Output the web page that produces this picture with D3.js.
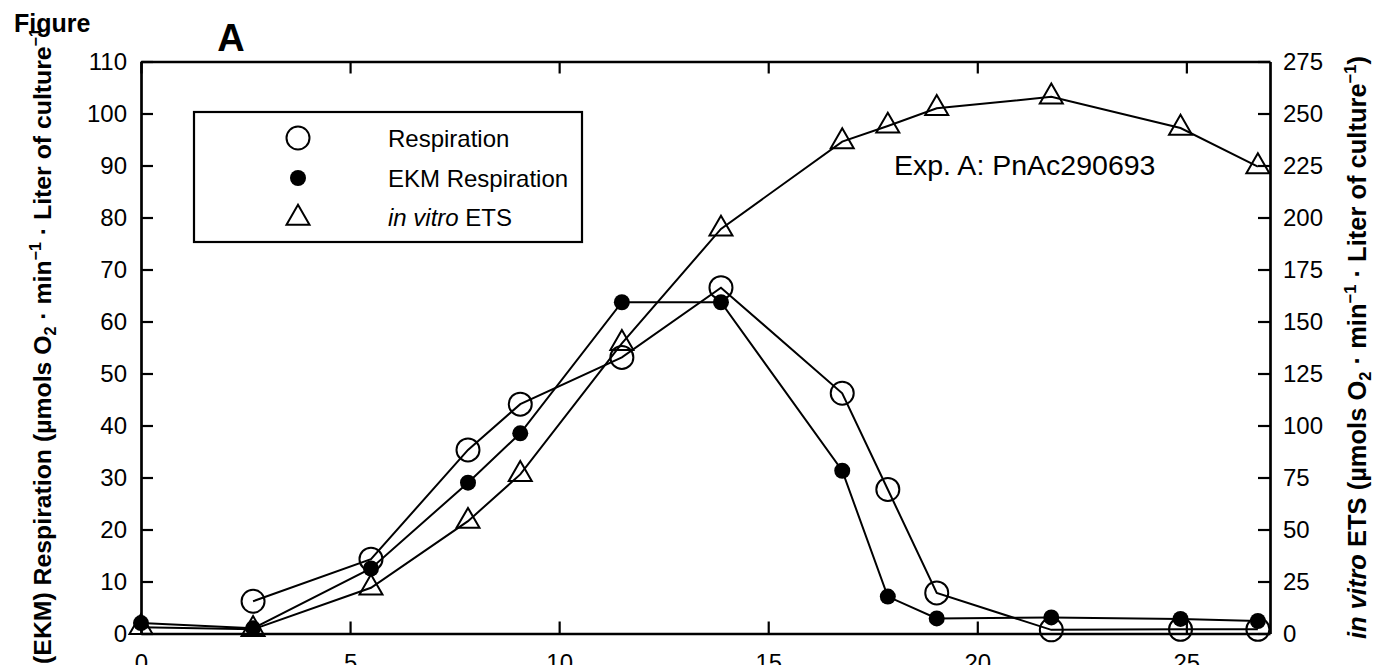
<!DOCTYPE html>
<html>
<head>
<meta charset="utf-8">
<script src="https://cdn.jsdelivr.net/npm/d3@7"></script>
<style>
  html, body { margin: 0; padding: 0; background: #fff; }
  svg { display: block; font-family: "Liberation Sans", Arial, sans-serif; }
</style>
</head>
<body>
<svg id="chart" width="1376" height="665"></svg>
<script>
// Sampling days
const days = [0, 2.68, 5.5, 7.82, 9.07, 11.5, 13.87, 16.77, 17.86, 19.03, 21.77, 24.86, 26.71];
// Respiration (left axis), no measurement on day 0
const respiration = [null, 6.2, 14.3, 35.3, 44.1, 53.1, 66.5, 46.2, 27.7, 7.8, 0.7, 0.8, 0.8];
// EKM respiration (left axis)
const ekmRespiration = [2.0, 1.0, 12.5, 29.0, 38.5, 63.7, 63.7, 31.3, 7.1, 2.9, 3.1, 2.8, 2.4];
// in vitro ETS (right axis)
const etsValues = [3, 2, 22, 54, 76.5, 139.5, 194.5, 236.5, 244, 252.5, 258, 243, 224.5];

const xTicks = [0, 5, 10, 15, 20, 25];
const leftTicks = [0, 10, 20, 30, 40, 50, 60, 70, 80, 90, 100, 110];
const rightTicks = [0, 25, 50, 75, 100, 125, 150, 175, 200, 225, 250, 275];

const svg = d3.select("#chart");
const plot = { left: 141, right: 1270, top: 61.5, bottom: 633.5 };

const x = d3.scaleLinear().domain([0, 27]).range([plot.left, plot.right]);
const yL = d3.scaleLinear().domain([0, 110]).range([plot.bottom, plot.top]);
const yR = d3.scaleLinear().domain([0, 275]).range([plot.bottom, plot.top]);

const axisStroke = 2.7;
const tickFont = 24;

function styleAxis(g) {
  g.selectAll("path.domain").attr("stroke", "#000").attr("stroke-width", axisStroke);
  g.selectAll(".tick line").attr("stroke", "#000").attr("stroke-width", 2.2);
  g.selectAll(".tick text").attr("fill", "#000").attr("font-size", tickFont)
    .attr("font-family", "Liberation Sans, Arial, sans-serif");
}

// Axes: box frame with inward ticks
svg.append("g").attr("transform", `translate(0,${plot.bottom})`)
  .call(d3.axisBottom(x).tickValues(xTicks).tickSize(-12).tickSizeOuter(0).tickPadding(20))
  .call(styleAxis);
svg.append("g").attr("transform", `translate(0,${plot.top})`)
  .call(d3.axisTop(x).tickValues(xTicks).tickSize(-12).tickSizeOuter(0).tickFormat(""))
  .call(styleAxis);
svg.append("g").attr("transform", `translate(${plot.left},0)`)
  .call(d3.axisLeft(yL).tickValues(leftTicks).tickSize(-12).tickSizeOuter(0).tickPadding(14))
  .call(styleAxis);
svg.append("g").attr("transform", `translate(${plot.right},0)`)
  .call(d3.axisRight(yR).tickValues(rightTicks).tickSize(-12).tickSizeOuter(0).tickPadding(13))
  .call(styleAxis);

// Series lines
const lineStroke = 2;
function drawLine(vals, yScale) {
  const pts = days.map((d, i) => [d, vals[i]]).filter(p => p[1] != null);
  svg.append("path")
    .attr("d", d3.line().x(p => x(p[0])).y(p => yScale(p[1]))(pts))
    .attr("fill", "none").attr("stroke", "#000").attr("stroke-width", lineStroke);
  return pts;
}
const respPts = drawLine(respiration, yL);
const ekmPts = drawLine(ekmRespiration, yL);
const etsPts = drawLine(etsValues, yR);

// Marker shapes
const triHalf = 11.5;
function trianglePath(cx, cy) {
  const h = triHalf * Math.sqrt(3);
  return `M${cx},${cy - 2 * h / 3}L${cx + triHalf},${cy + h / 3}L${cx - triHalf},${cy + h / 3}Z`;
}

svg.append("g").selectAll("path").data(etsPts).join("path")
  .attr("d", p => trianglePath(x(p[0]), yR(p[1])))
  .attr("fill", "none").attr("stroke", "#000").attr("stroke-width", 2);
svg.append("g").selectAll("circle").data(respPts).join("circle")
  .attr("cx", p => x(p[0])).attr("cy", p => yL(p[1])).attr("r", 11.5)
  .attr("fill", "none").attr("stroke", "#000").attr("stroke-width", 2);
svg.append("g").selectAll("circle").data(ekmPts).join("circle")
  .attr("cx", p => x(p[0])).attr("cy", p => yL(p[1])).attr("r", 8)
  .attr("fill", "#000");

// Legend
const legend = svg.append("g");
legend.append("rect").attr("x", 194).attr("y", 112).attr("width", 388).attr("height", 130)
  .attr("fill", "#fff").attr("stroke", "#000").attr("stroke-width", 2.2);
const symX = 298, textX = 388;
legend.append("circle").attr("cx", symX).attr("cy", 138).attr("r", 11.5)
  .attr("fill", "none").attr("stroke", "#000").attr("stroke-width", 2);
legend.append("circle").attr("cx", symX).attr("cy", 178).attr("r", 8).attr("fill", "#000");
legend.append("path").attr("d", trianglePath(symX, 218))
  .attr("fill", "none").attr("stroke", "#000").attr("stroke-width", 2);
const legText = legend.append("g").attr("font-size", 24).attr("fill", "#000");
legText.append("text").attr("x", textX).attr("y", 146.5).text("Respiration");
legText.append("text").attr("x", textX).attr("y", 186.5).text("EKM Respiration");
const lt3 = legText.append("text").attr("x", textX).attr("y", 226);
lt3.append("tspan").attr("font-style", "italic").text("in vitro");
lt3.append("tspan").text(" ETS");

// Experiment annotation
svg.append("text").attr("x", 894).attr("y", 175).attr("font-size", 28.5).attr("fill", "#000")
  .text("Exp. A: PnAc290693");

// Panel letter
svg.append("text").attr("x", 231).attr("y", 51).attr("text-anchor", "middle")
  .attr("font-size", 38).attr("font-weight", "bold").text("A");

// Unit text with subscript and superscripts
function unitParts(t, closeParen) {
  t.append("tspan").text("(µmols O");
  t.append("tspan").attr("font-size", "65%").attr("dy", 5).text("2");
  t.append("tspan").attr("dy", -5).text(" · min");
  t.append("tspan").attr("font-size", "65%").attr("dy", -10).text("−1");
  t.append("tspan").attr("dy", 10).text(" · Liter of culture");
  t.append("tspan").attr("font-size", "65%").attr("dy", -10).text("−1");
  if (closeParen) t.append("tspan").attr("dy", 10).text(")");
}

const leftTitle = svg.append("text")
  .attr("transform", "translate(51,28) rotate(-90)")
  .attr("text-anchor", "end").attr("font-size", 24.8).attr("font-weight", "bold");
leftTitle.append("tspan").text("(EKM) Respiration ");
unitParts(leftTitle, false);

const rightTitle = svg.append("text")
  .attr("transform", "translate(1366,56) rotate(-90)")
  .attr("text-anchor", "end").attr("font-size", 25.5).attr("font-weight", "bold");
rightTitle.append("tspan").attr("font-style", "italic").text("in vitro");
rightTitle.append("tspan").text(" ETS ");
unitParts(rightTitle, true);

svg.append("text").attr("x", 14).attr("y", 32).attr("font-size", 25)
  .attr("font-weight", "bold").text("Figure");
</script>
</body>
</html>
